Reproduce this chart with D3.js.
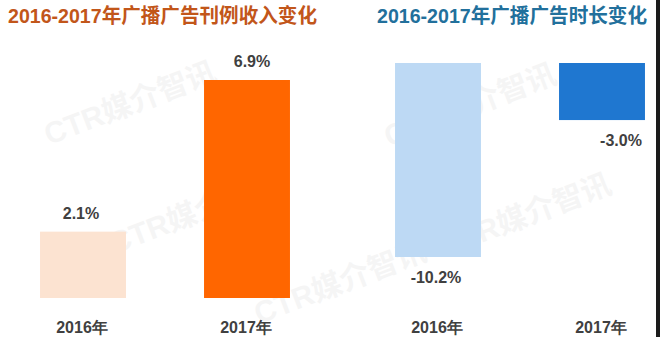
<!DOCTYPE html>
<html>
<head>
<meta charset="utf-8">
<script src="https://cdn.jsdelivr.net/npm/d3@7"></script>
<style>
  body { margin: 0; background: #fff; }
  svg { display: block; font-family: "Liberation Sans", Arial, "Noto Sans CJK SC", sans-serif; }
  .axis text { font-size: 16px; font-weight: bold; fill: #404040; }
  .lbl { font-size: 16px; font-weight: bold; fill: #404040; }
</style>
</head>
<body>
<svg id="chart" width="660" height="337"></svg>
<script>
// data
var years = ["2016年", "2017年"];
var revenueChange = [2.1, 6.9];     // 刊例收入变化 %
var durationChange = [-10.2, -3.0]; // 时长变化 %
var titleLeft = "2016-2017年广播广告刊例收入变化";
var titleRight = "2016-2017年广播广告时长变化";
var watermark = "CTR媒介智讯";

var svg = d3.select("svg#chart");

// faint watermarks behind everything
var wm = [[130, 103], [195, 212], [470, 105], [525, 215], [340, 282]];
svg.selectAll("text.wm")
  .data(wm)
  .enter().append("text")
  .attr("class", "wm")
  .attr("transform", function(d) { return "translate(" + d[0] + "," + d[1] + ") rotate(-21)"; })
  .attr("text-anchor", "middle")
  .attr("dy", "0.35em")
  .style("font-size", "30px")
  .style("font-weight", "bold")
  .style("fill", "#000")
  .style("opacity", 0.035)
  .text(watermark);

function panel(opts) {
  var x = d3.scaleBand()
    .domain(years)
    .range(opts.xr)
    .paddingInner(0.476)
    .paddingOuter(0.238);

  var y = d3.scaleLinear()
    .domain(opts.yd)
    .range(opts.yr);

  var g = svg.append("g");

  g.append("text")
    .attr("x", opts.tx)
    .attr("y", 23)
    .attr("textLength", opts.tw)
    .attr("lengthAdjust", "spacingAndGlyphs")
    .style("font-size", "20px")
    .style("font-weight", "bold")
    .style("fill", opts.titleColor)
    .text(opts.title);

  var rows = years.map(function(k, i) { return { key: k, v: opts.values[i], i: i }; });

  g.selectAll("rect.bar")
    .data(rows)
    .enter().append("rect")
    .attr("class", "bar")
    .attr("x", function(d) { return x(d.key); })
    .attr("width", x.bandwidth())
    .attr("y", function(d) { return y(Math.max(0, d.v)); })
    .attr("height", function(d) { return Math.abs(y(d.v) - y(0)); })
    .attr("fill", function(d) { return opts.colors[d.i]; });

  g.selectAll("text.lbl")
    .data(rows)
    .enter().append("text")
    .attr("class", "lbl")
    .attr("text-anchor", "middle")
    .attr("x", function(d) { return x(d.key) + x.bandwidth() / 2 + opts.ldx[d.i]; })
    .attr("y", function(d) { return d.v >= 0 ? y(d.v) - 13 : y(d.v) + 26; })
    .text(function(d) { return d.v.toFixed(1) + "%"; });

  var ax = g.append("g")
    .attr("class", "axis")
    .attr("transform", "translate(0,318)")
    .call(d3.axisBottom(x).tickSize(0).tickPadding(0));
  ax.select(".domain").remove();
  ax.selectAll("text").attr("dy", "15px").attr("dx", opts.adx);
}

panel({
  xr: [1, 329], yd: [0, 6.9], yr: [298, 80],
  values: revenueChange, colors: ["#FCE3D1", "#FF6600"],
  title: titleLeft, tx: 8, tw: 309, titleColor: "#C2561A",
  ldx: [-2, 5], adx: -1
});

panel({
  xr: [356, 684], yd: [-10.2, 0], yr: [257, 63],
  values: durationChange, colors: ["#BDD9F4", "#1F77D0"],
  title: titleRight, tx: 377, tw: 270, titleColor: "#22709C",
  ldx: [-2, 19], adx: -1
});

// dark strip on the right edge
svg.append("rect")
  .attr("x", 656)
  .attr("y", 0)
  .attr("width", 4)
  .attr("height", 337)
  .attr("fill", "#1b1b1b");
</script>
</body>
</html>
